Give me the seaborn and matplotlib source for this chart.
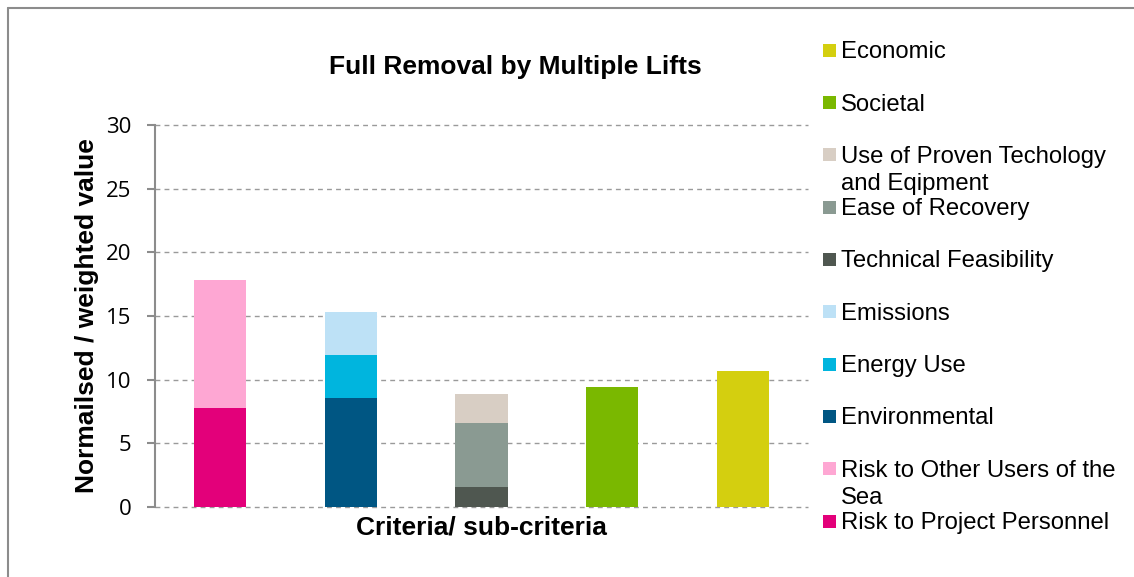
import matplotlib
matplotlib.use("Agg")
import matplotlib.pyplot as plt
from matplotlib.patches import Rectangle
from matplotlib.lines import Line2D
import seaborn as sns
import pandas as pd

# ---- data ----
criteria = ["Safety", "Environmental", "Technical", "Societal", "Economic"]
sub_criteria = ["Economic", "Societal", "Use of Proven Techology\nand Eqipment",
                "Ease of Recovery", "Technical Feasibility", "Emissions",
                "Energy Use", "Environmental", "Risk to Other Users of the\nSea",
                "Risk to Project Personnel"]
sub_parent = ["Economic", "Societal", "Technical", "Technical", "Technical",
              "Environmental", "Environmental", "Environmental", "Safety", "Safety"]
sub_values = [10.68, 9.43, 2.28, 5.03, 1.57, 3.38, 3.35, 8.59, 10.03, 7.80]
colors = ["#D4CF0F", "#7AB800", "#D8CEC4", "#8A9A92", "#4F5750",
          "#BDE1F6", "#00B5DE", "#005683", "#FEA7D3", "#E3007A"]
y_ticks = [0, 5, 10, 15, 20, 25, 30]

df = pd.DataFrame({"criterion": pd.Categorical(sub_parent, categories=criteria),
                   "sub": sub_criteria, "value": sub_values})

sns.set_theme(style="white")
plt.rcParams["font.family"] = ["Liberation Sans", "DejaVu Sans"]
plt.rcParams["text.color"] = "black"
plt.rcParams["axes.labelcolor"] = "black"

W, H = 1134, 577
fig = plt.figure(figsize=(W / 100, H / 100), dpi=100)
ax = fig.add_axes([155 / W, 1 - 507 / H, (808 - 155) / W, (507 - 125) / H])

sns.histplot(data=df, x="criterion", hue="sub", weights="value",
             hue_order=sub_criteria, palette=colors, multiple="stack",
             discrete=True, shrink=0.4, alpha=1, linewidth=0, edgecolor="none",
             legend=False, ax=ax)

ax.set_xlim(-0.5, 4.5)
ax.set_ylim(0, 30)
ax.set_yticks(y_ticks)
ax.set_yticklabels([str(t) for t in y_ticks], fontsize=16, color="black",
                   family=["Open Sans", "DejaVu Sans"])
ax.set_xticks([])
ax.yaxis.grid(True, linestyle=(0, (3.5, 3)), color="#9a9a9a", linewidth=1)
for gl in ax.get_ygridlines():
    gl.set_clip_on(False)
ax.xaxis.grid(False)
ax.set_axisbelow(True)
for s in ["top", "right", "bottom"]:
    ax.spines[s].set_visible(False)
ax.spines["left"].set_color("#8c8c8c")
ax.spines["left"].set_linewidth(1.5)
ax.tick_params(axis="y", direction="out", length=6, width=1.5, color="#8c8c8c",
               left=True, pad=11)

ax.set_ylabel("Normailsed / weighted value", fontsize=19, fontweight="bold",
              labelpad=5, color="black")
ax.set_xlabel("Criteria/ sub-criteria", fontsize=19, fontweight="bold", labelpad=6,
              color="black")

fig.text(515 / W, 1 - 67 / H, "Full Removal by Multiple Lifts", fontsize=19,
         fontweight="bold", ha="center", va="center", color="black")

# legend (manual, Excel-like: marker aligned with first line)
y0, step = 50.3, 52.3
for i, (lab, col) in enumerate(zip(sub_criteria, colors)):
    yc = y0 + i * step
    fig.patches.append(Rectangle((823 / W, 1 - (yc + 6.5) / H), 13 / W, 13 / H,
                                 transform=fig.transFigure, facecolor=col,
                                 edgecolor="none"))
    fig.text(841 / W, 1 - (yc - 9) / H, lab, fontsize=17.2, ha="left", va="top",
             linespacing=1.32, color="black")

# outer border (top and left visible)
fig.add_artist(Line2D([8 / W, 1.01], [1 - 8 / H, 1 - 8 / H], transform=fig.transFigure,
                      color="#8c8c8c", linewidth=1.5))
fig.add_artist(Line2D([8 / W, 8 / W], [-0.01, 1 - 8 / H], transform=fig.transFigure,
                      color="#8c8c8c", linewidth=1.5))

fig.savefig("out.png", dpi=100)
